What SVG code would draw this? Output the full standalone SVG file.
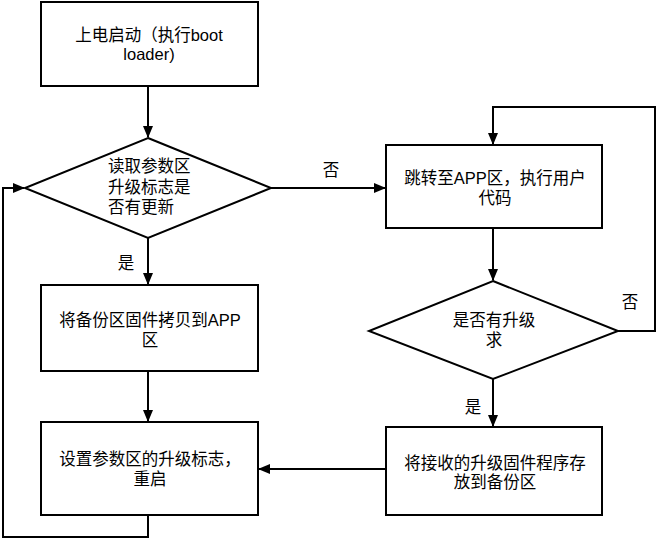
<svg xmlns="http://www.w3.org/2000/svg" width="657" height="540" viewBox="0 0 657 540">
<style>
.n{fill:#fff;stroke:#000;stroke-width:2}
.c{fill:none;stroke:#000;stroke-width:2}
text{font-family:"Liberation Sans","Noto Sans CJK SC",sans-serif;font-size:16.5px;fill:#000;text-anchor:middle}
.l{text-anchor:start}
</style>
<defs>
<marker id="a" markerWidth="12" markerHeight="10" refX="11" refY="5" orient="auto" markerUnits="userSpaceOnUse">
<path d="M0,0 L12,5 L0,10 Z" fill="#000"/>
</marker>
</defs>
<rect width="657" height="540" fill="#fff"/>
<g id="connectors">
<path class="c" d="M148,86 V137" marker-end="url(#a)"/>
<path class="c" d="M148,238 V284" marker-end="url(#a)"/>
<path class="c" d="M148,371 V421" marker-end="url(#a)"/>
<path class="c" d="M148,515 V537 H3 V188 H24" marker-end="url(#a)"/>
<path class="c" d="M271,188 H385" marker-end="url(#a)"/>
<path class="c" d="M493,228 V280" marker-end="url(#a)"/>
<path class="c" d="M493,379 V426" marker-end="url(#a)"/>
<path class="c" d="M618,331 H655 V107 H493 V144" marker-end="url(#a)"/>
<path class="c" d="M386,469 H259" marker-end="url(#a)"/>
</g>
<g id="n1">
<rect class="n" x="41" y="2" width="217" height="84"/>
<text x="149" y="41">上电启动（执行boot<tspan x="149" y="60">loader)</tspan></text>
</g>
<g id="n2">
<polygon class="n" points="148,138 271,188 148,238 25,188"/>
<text class="l" x="108" y="172">读取参数区<tspan x="108" y="193">升级标志是</tspan><tspan x="108" y="213">否有更新</tspan></text>
</g>
<g id="n3">
<rect class="n" x="41" y="285" width="217" height="86"/>
<text x="150" y="326">将备份区固件拷贝到APP<tspan x="150" y="346">区</tspan></text>
</g>
<g id="n4">
<rect class="n" x="41" y="422" width="217" height="93"/>
<text x="150" y="465">设置参数区的升级标志，<tspan x="150" y="485">重启</tspan></text>
</g>
<g id="n5">
<rect class="n" x="386" y="145" width="216" height="83"/>
<text x="495" y="184">跳转至APP区，执行用户<tspan x="495" y="204">代码</tspan></text>
</g>
<g id="n6">
<polygon class="n" points="493,281 618,331 493,379 369,331"/>
<text x="494" y="326">是否有升级<tspan x="494" y="346">求</tspan></text>
</g>
<g id="n7">
<rect class="n" x="386" y="427" width="216" height="88"/>
<text x="495" y="469">将接收的升级固件程序存<tspan x="495" y="488">放到备份区</tspan></text>
</g>
<g id="labels">
<text x="331" y="176">否</text>
<text x="126" y="269">是</text>
<text x="630" y="308">否</text>
<text x="473" y="413">是</text>
</g>
</svg>
